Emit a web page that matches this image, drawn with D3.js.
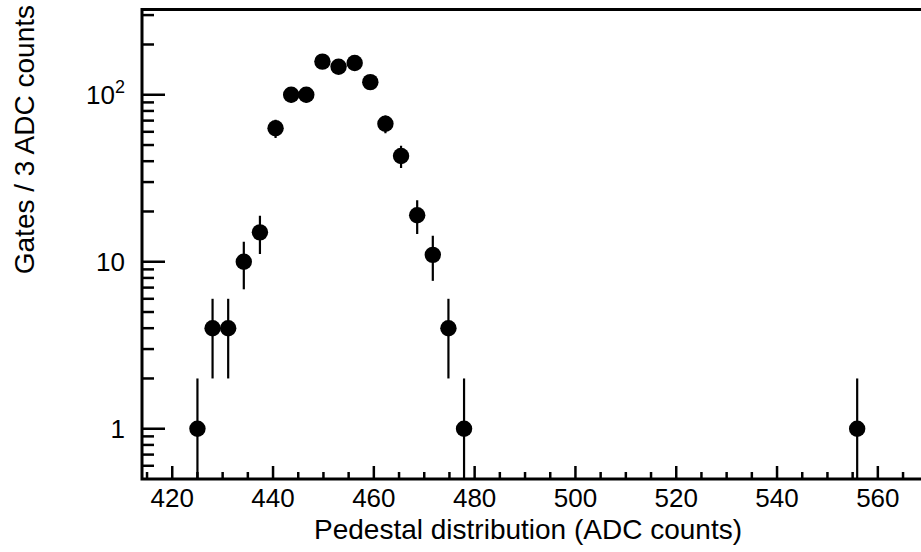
<!DOCTYPE html>
<html>
<head>
<meta charset="utf-8">
<script src="https://cdn.jsdelivr.net/npm/d3@7"></script>
<style>
  html, body { margin: 0; padding: 0; background: #fff; }
  svg { display: block; }
  text { font-family: "Liberation Sans", Arial, Helvetica, sans-serif; fill: #000; }
</style>
</head>
<body>
<svg id="chart" width="921" height="552"></svg>
<script>
// ---- data ----
const binCenters = [425.0, 428.0, 431.1, 434.2, 437.4, 440.5, 443.6, 446.6, 449.8, 453.0,
                    456.2, 459.3, 462.3, 465.4, 468.6, 471.7, 474.8, 477.9, 555.9];
const counts     = [1, 4, 4, 10, 15, 63, 100, 100, 158, 147,
                    155, 119, 67, 43, 19, 11, 4, 1, 1];
const xMajorTicks = [420, 440, 460, 480, 500, 520, 540, 560];
const xMinorTicks = [415, 425, 430, 435, 445, 450, 455, 465, 470, 475, 485, 490, 495,
                     505, 510, 515, 525, 530, 535, 545, 550, 555, 565];
const yMajorTicks = [1, 10, 100];
const yMajorLabels = [["1", ""], ["10", ""], ["10", "2"]];
const yMinorTicks = [0.6, 0.7, 0.8, 0.9, 2, 3, 4, 5, 6, 7, 8, 9,
                     20, 30, 40, 50, 60, 70, 80, 90, 200, 300];
const xTitle = "Pedestal distribution (ADC counts)";
const yTitle = "Gates / 3 ADC counts";

// ---- layout ----
const padLeft = 142, padBottom = 479, padTop = 9.5;
const svg = d3.select("#chart");

const x = d3.scaleLinear().domain([414, 570]).range([padLeft, padLeft + 156 * 5.04]);
const y = d3.scaleLog().domain([0.5, 324]).range([padBottom, padTop]);

svg.append("defs").append("clipPath").attr("id", "plotclip")
  .append("rect").attr("x", padLeft).attr("y", padTop)
  .attr("width", 921 - padLeft).attr("height", padBottom - padTop);

const g = svg.append("g").attr("clip-path", "url(#plotclip)");
const pts = binCenters.map((c, i) => ({ x: c, n: counts[i] }));
g.selectAll("line.err").data(pts).enter().append("line")
  .attr("class", "err")
  .attr("x1", d => x(d.x)).attr("x2", d => x(d.x))
  .attr("y1", d => { const lo = d.n - Math.sqrt(d.n); return lo > 0.5 ? y(lo) : padBottom; })
  .attr("y2", d => y(d.n + Math.sqrt(d.n)))
  .attr("stroke", "#000").attr("stroke-width", 2.2);
g.selectAll("circle").data(pts).enter().append("circle")
  .attr("cx", d => x(d.x)).attr("cy", d => y(d.n)).attr("r", 8.2)
  .attr("fill", "#000");

const tk = svg.append("g").attr("stroke", "#000").attr("stroke-width", 2.5);
xMajorTicks.forEach(v => tk.append("line").attr("x1", x(v)).attr("x2", x(v)).attr("y1", padBottom).attr("y2", padBottom - 13));
xMinorTicks.forEach(v => tk.append("line").attr("x1", x(v)).attr("x2", x(v)).attr("y1", padBottom).attr("y2", padBottom - 7));
yMajorTicks.forEach(v => tk.append("line").attr("x1", padLeft).attr("x2", padLeft + 23).attr("y1", y(v)).attr("y2", y(v)));
yMinorTicks.forEach(v => tk.append("line").attr("x1", padLeft).attr("x2", padLeft + 12).attr("y1", y(v)).attr("y2", y(v)));

const fr = svg.append("g").attr("stroke", "#000").attr("stroke-width", 3).attr("fill", "none");
fr.append("path").attr("d", `M921,${padTop}H${padLeft}V${padBottom}H921`);

svg.append("g").selectAll("text").data(xMajorTicks).enter().append("text")
  .attr("x", d => x(d)).attr("y", 507).attr("text-anchor", "middle")
  .attr("font-size", 26).text(d => d);

yMajorTicks.forEach((v, i) => {
  const t = svg.append("text").attr("x", 125).attr("y", y(v) + 9.5)
    .attr("text-anchor", "end").attr("font-size", 26);
  t.append("tspan").text(yMajorLabels[i][0]);
  if (yMajorLabels[i][1]) {
    t.append("tspan").attr("dy", -11).attr("font-size", 18).text(yMajorLabels[i][1]);
  }
});

svg.append("text").attr("x", 742).attr("y", 539).attr("text-anchor", "end")
  .attr("font-size", 28).text(xTitle);
svg.append("text").attr("transform", "translate(34,5) rotate(-90)")
  .attr("text-anchor", "end").attr("font-size", 28).text(yTitle);
</script>
</body>
</html>
